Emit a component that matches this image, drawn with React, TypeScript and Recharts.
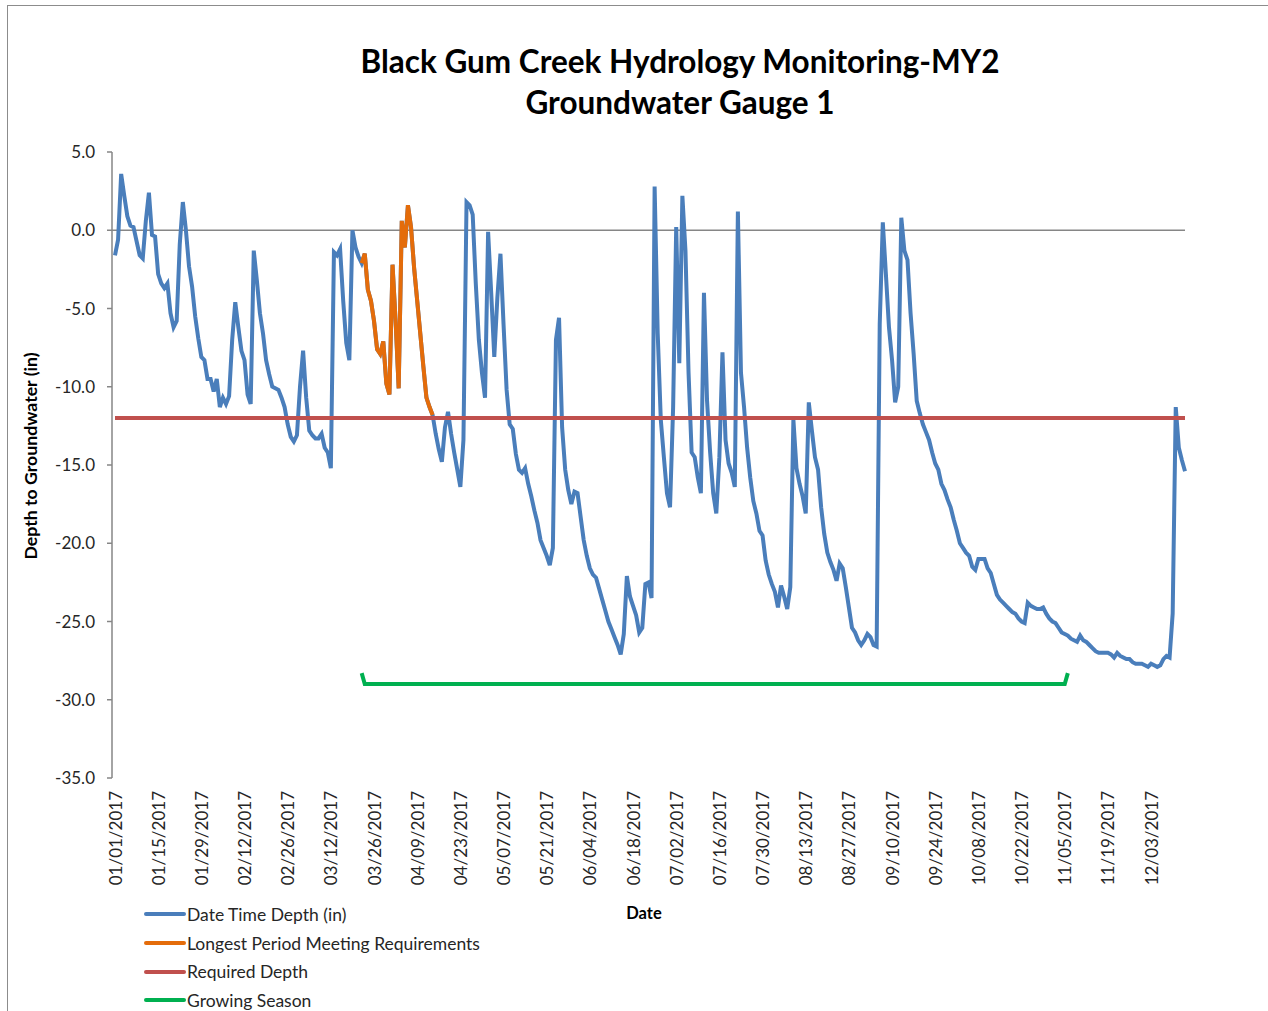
import React from 'react';
import { LineChart, Line, XAxis, YAxis, ReferenceLine, Legend } from 'recharts';

// ---------- data ----------
const YEAR = 2017;
const DAY_COUNT = 348; // 01/01/2017 .. 12/14/2017

// Daily depth to groundwater (in), starting 01/01/2017
const depthValues: number[] = [
  -1.6, -0.6, 3.6, 2.2, 0.9, 0.3, 0.2, -0.7, -1.6, -1.8,
  0.6, 2.4, -0.3, -0.4, -2.8, -3.4, -3.7, -3.4, -5.3, -6.2,
  -5.8, -0.9, 1.8, 0.0, -2.3, -3.6, -5.5, -6.9, -8.1, -8.3,
  -9.5, -9.5, -10.3, -9.5, -11.3, -10.7, -11.1, -10.6, -7.0, -4.6,
  -6.2, -7.7, -8.3, -10.5, -11.1, -1.3, -3.2, -5.3, -6.6, -8.3,
  -9.2, -10.0, -10.1, -10.2, -10.7, -11.3, -12.4, -13.2, -13.5, -13.1,
  -10.0, -7.7, -10.7, -12.8, -13.1, -13.3, -13.3, -13.0, -13.9, -14.2,
  -15.2, -1.4, -1.6, -1.2, -4.5, -7.2, -8.3, 0.0, -1.1, -1.7,
  -2.1, -1.5, -3.8, -4.5, -5.8, -7.6, -7.9, -7.1, -9.8, -10.5,
  -2.2, -5.8, -10.1, 0.6, -1.1, 1.6, 0.2, -2.4, -4.5, -6.6,
  -8.7, -10.7, -11.3, -11.8, -13.0, -14.0, -14.8, -12.6, -11.6, -13.0,
  -14.2, -15.3, -16.4, -13.4, 1.8, 1.6, 1.0, -3.4, -7.0, -9.1,
  -10.7, -0.1, -4.0, -8.1, -4.3, -1.5, -6.0, -10.2, -12.4, -12.7,
  -14.3, -15.3, -15.5, -15.2, -16.2, -17.0, -17.9, -18.7, -19.8, -20.3,
  -20.8, -21.4, -20.3, -7.0, -5.6, -12.6, -15.3, -16.6, -17.5, -16.7,
  -16.8, -18.3, -19.8, -20.8, -21.6, -22.0, -22.2, -22.9, -23.6, -24.3,
  -25.0, -25.5, -26.0, -26.5, -27.1, -25.8, -22.1, -23.4, -24.0, -24.6,
  -25.7, -25.4, -22.6, -22.5, -23.5, 2.8, -6.6, -12.1, -14.5, -16.8,
  -17.7, -11.3, 0.2, -8.5, 2.2, -1.3, -9.1, -14.2, -14.5, -15.8,
  -16.8, -4.0, -10.9, -14.2, -16.8, -18.1, -14.5, -7.8, -13.4, -14.9,
  -15.5, -16.4, 1.2, -9.1, -11.3, -13.9, -15.8, -17.3, -18.1, -19.2,
  -19.5, -21.1, -22.0, -22.6, -23.1, -24.1, -22.7, -23.4, -24.2, -22.8,
  -12.1, -15.2, -16.2, -17.0, -18.1, -11.0, -12.8, -14.5, -15.3, -17.7,
  -19.4, -20.6, -21.2, -21.7, -22.4, -21.3, -21.6, -22.8, -24.1, -25.4,
  -25.7, -26.2, -26.5, -26.2, -25.8, -26.0, -26.5, -26.6, -6.0, 0.5,
  -2.8, -6.2, -8.3, -11.0, -10.0, 0.8, -1.3, -1.9, -5.3, -7.9,
  -10.9, -11.7, -12.4, -12.9, -13.4, -14.2, -14.9, -15.3, -16.2, -16.6,
  -17.2, -17.7, -18.5, -19.2, -20.0, -20.3, -20.6, -20.8, -21.5, -21.7,
  -21.0, -21.0, -21.0, -21.6, -21.9, -22.6, -23.3, -23.6, -23.8, -24.0,
  -24.2, -24.4, -24.5, -24.8, -25.0, -25.1, -23.8, -24.0, -24.1, -24.2,
  -24.2, -24.1, -24.5, -24.8, -25.0, -25.1, -25.4, -25.7, -25.8, -25.9,
  -26.1, -26.2, -26.3, -25.9, -26.2, -26.3, -26.5, -26.7, -26.9, -27.0,
  -27.0, -27.0, -27.0, -27.1, -27.3, -27.0, -27.2, -27.3, -27.4, -27.4,
  -27.6, -27.7, -27.7, -27.7, -27.8, -27.9, -27.7, -27.8, -27.9, -27.8,
  -27.4, -27.2, -27.3, -24.5, -11.3, -13.9, -14.7, -15.4,
];

const requiredDepth = -12;
const growingSeasonDepth = -29;
const growingSeasonEdgeDepth = -28.3;
const growingSeasonStart = '03/22/2017';
const growingSeasonEnd = '11/06/2017';
const longestPeriodStart = '03/22/2017';
const longestPeriodEnd = '04/14/2017';

const yTicks = [5, 0, -5, -10, -15, -20, -25, -30, -35];

const seriesNames = {
  depth: 'Date Time Depth (in)',
  longest: 'Longest Period Meeting Requirements',
  required: 'Required Depth',
  growing: 'Growing Season',
};
const seriesColors = {
  depth: '#4A7EBB',
  longest: '#E46C0A',
  required: '#C0504D',
  growing: '#00B050',
};

// ---------- build table ----------
function dateLabel(i: number): string {
  const d = new Date(Date.UTC(YEAR, 0, 1 + i));
  const mm = String(d.getUTCMonth() + 1).padStart(2, '0');
  const dd = String(d.getUTCDate()).padStart(2, '0');
  return `${mm}/${dd}/${d.getUTCFullYear()}`;
}

const dates = Array.from({ length: DAY_COUNT }, (_, i) => dateLabel(i));
const gsStart = dates.indexOf(growingSeasonStart);
const gsEnd = dates.indexOf(growingSeasonEnd);
const lpStart = dates.indexOf(longestPeriodStart);
const lpEnd = dates.indexOf(longestPeriodEnd);

const rows = dates.map((date, i) => ({
  date,
  depth: depthValues[i],
  longest: i >= lpStart && i <= lpEnd ? depthValues[i] : null,
  required: requiredDepth,
  growing:
    i === gsStart || i === gsEnd
      ? growingSeasonEdgeDepth
      : i > gsStart && i < gsEnd
      ? growingSeasonDepth
      : null,
}));

const FONT = 'Lato, "DejaVu Sans", sans-serif';

const DateTick = (props: any) => {
  const { x, y, payload } = props;
  return (
    <g transform={`translate(${x},${y})`}>
      <text
        transform="rotate(-90)"
        x={-5}
        y={0}
        textAnchor="end"
        dominantBaseline="central"
        fill="#262626"
        fontSize={17}
        fontFamily={FONT}
      >
        {payload.value}
      </text>
    </g>
  );
};

const LegendContent = () => {
  const keys: (keyof typeof seriesNames)[] = ['depth', 'longest', 'required', 'growing'];
  return (
    <div style={{ fontFamily: FONT, fontSize: 17.5, color: '#262626' }}>
      {keys.map((k) => (
        <div key={k} style={{ display: 'flex', alignItems: 'center', height: 28.7 }}>
          <div style={{ width: 42, height: 4, background: seriesColors[k], borderRadius: 2 }} />
          <span style={{ marginLeft: 1, whiteSpace: 'nowrap' }}>{seriesNames[k]}</span>
        </div>
      ))}
    </div>
  );
};

export default function App() {
  return (
    <div style={{ position: 'absolute', left: 0, top: 0, width: 1268, height: 1011, fontFamily: FONT, background: '#fff' }}>
      <div style={{ position: 'absolute', left: 7, top: 5, width: 1270, height: 1015, borderLeft: '1px solid #8c8c8c', borderTop: '1px solid #8c8c8c' }} />
      <div
        style={{
          position: 'absolute', left: 180, top: 41, width: 1000, textAlign: 'center',
          fontWeight: 700, fontSize: 31.5, lineHeight: '41px', color: '#000', fontFamily: FONT,
        }}
      >
        <div>Black Gum Creek Hydrology Monitoring-MY2</div>
        <div>Groundwater Gauge 1</div>
      </div>
      <div
        style={{
          position: 'absolute', left: 30, top: 456, transform: 'translate(-50%, -50%) rotate(-90deg)',
          whiteSpace: 'nowrap', fontWeight: 700, fontSize: 17.7, color: '#000', fontFamily: FONT,
        }}
      >
        Depth to Groundwater (in)
      </div>
      <div
        style={{
          position: 'absolute', left: 644, top: 913, transform: 'translate(-50%, -50%)',
          fontWeight: 700, fontSize: 16.5, color: '#000', fontFamily: FONT,
        }}
      >
        Date
      </div>
      <div style={{ position: 'absolute', left: 0, top: 0 }}>
        <LineChart width={1268} height={1011} data={rows} margin={{ top: 152, right: 83, left: 0, bottom: 113 }}>
          <XAxis
            dataKey="date"
            interval={13}
            axisLine={false}
            tickLine={false}
            height={120}
            padding={{ left: 3, right: 0 }}
            tick={<DateTick />}
          />
          <YAxis
            domain={[-35, 5]}
            ticks={yTicks}
            allowDataOverflow
            width={112}
            axisLine={{ stroke: '#868686', strokeWidth: 1.5 }}
            tickLine={{ stroke: '#868686', strokeWidth: 1.5 }}
            tickSize={5}
            tickMargin={12}
            tickFormatter={(v: number) => v.toFixed(1)}
            tick={{ fill: '#262626', fontSize: 17, fontFamily: FONT }}
          />
          <ReferenceLine y={0} stroke="#868686" strokeWidth={1.5} />
          <Line
            type="linear"
            dataKey="depth"
            name={seriesNames.depth}
            stroke={seriesColors.depth}
            strokeWidth={4}
            dot={false}
            isAnimationActive={false}
          />
          <Line
            type="linear"
            dataKey="longest"
            name={seriesNames.longest}
            stroke={seriesColors.longest}
            strokeWidth={4}
            dot={false}
            isAnimationActive={false}
          />
          <Line
            type="linear"
            dataKey="required"
            name={seriesNames.required}
            stroke={seriesColors.required}
            strokeWidth={4}
            dot={false}
            isAnimationActive={false}
          />
          <Line
            type="linear"
            dataKey="growing"
            name={seriesNames.growing}
            stroke={seriesColors.growing}
            strokeWidth={4}
            dot={false}
            isAnimationActive={false}
          />
          <Legend
            layout="vertical"
            align="center"
            verticalAlign="middle"
            wrapperStyle={{ left: 144, top: 900, width: 460, height: 116 }}
            content={<LegendContent />}
          />
        </LineChart>
      </div>
    </div>
  );
}
